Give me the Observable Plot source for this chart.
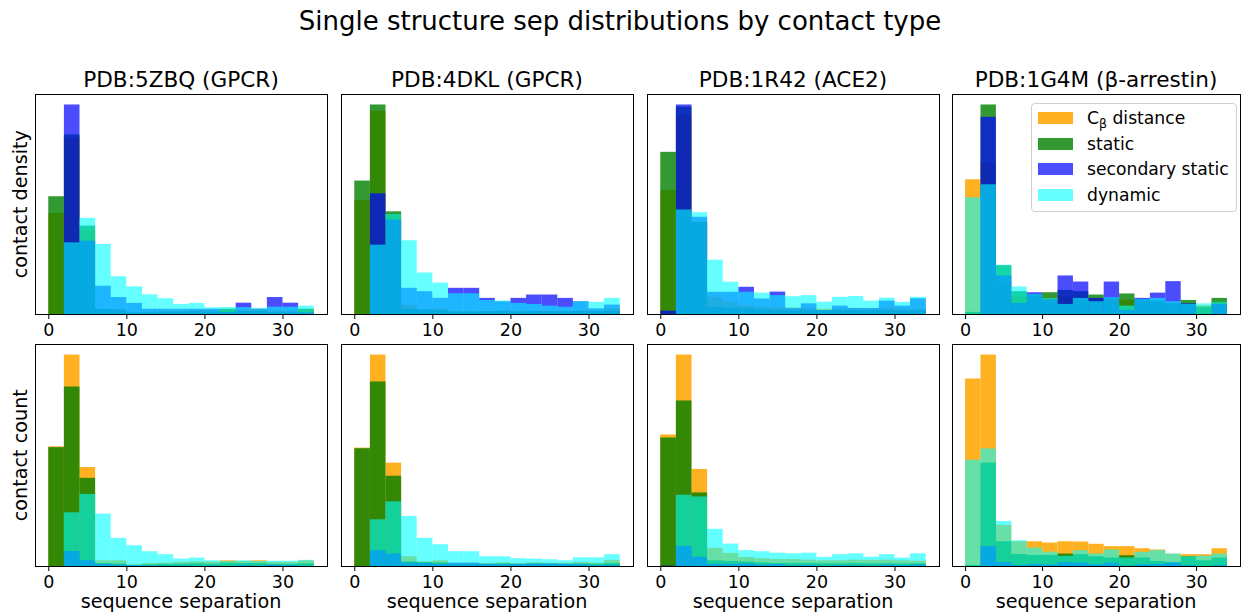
<!DOCTYPE html>
<html><head><meta charset="utf-8">
<script src="https://cdn.jsdelivr.net/npm/d3@7"></script>
<script src="https://cdn.jsdelivr.net/npm/@observablehq/plot@0.6"></script>
<style>
body{margin:0;background:#fff;}
#fig{position:relative;width:1241px;height:613px;overflow:hidden;background:#fff;font-family:"DejaVu Sans",sans-serif;color:#000;}
.abs{position:absolute;white-space:nowrap;line-height:0.75;}
.panel{position:absolute;}
.legend{position:absolute;border:1px solid #d0d0d0;border-radius:4px;background:rgba(255,255,255,0.8);box-sizing:border-box;}
.sw{position:absolute;width:35px;height:12px;}
.lt{position:absolute;font-size:17.2px;line-height:1;white-space:nowrap;}
</style></head><body><div id="fig"></div>
<script>
// ---------- data ----------
const binEdges = [0, 2, 4, 6, 8, 10, 12, 14, 16, 18, 20, 22, 24, 26, 28, 30, 32, 34];
const xTicks = [0, 10, 20, 30];
const seriesNames = ["Cβ distance", "static", "secondary static", "dynamic"];
const seriesColors = ["#FFA500", "#008000", "#0000FF", "#00FFFF"];
const seriesAlpha = [0.87, 0.8, 0.7, 0.6];
const panelTitles = ["PDB:5ZBQ (GPCR)", "PDB:4DKL (GPCR)", "PDB:1R42 (ACE2)", "PDB:1G4M (β-arrestin)"];
const rowLabels = ["contact density", "contact count"];
const xLabel = "sequence separation";
const suptitle = "Single structure sep distributions by contact type";

// each panel: [Cβ distance, static, secondary static, dynamic], one value per bin
const dens5ZBQ = [
  [48.2, 84.0, 40.0, 2.3, 2.3, 0.7, 1.2, 1.4, 1.6, 1.9, 1.8, 2.3, 2.0, 2.3, 1.6, 1.6, 2.3],
  [56.2, 85.7, 42.2, 2.4, 2.0, 0.8, 0.8, 1.0, 1.1, 1.3, 1.1, 2.5, 1.4, 1.4, 1.0, 1.0, 2.5],
  [0, 100, 35.0, 13.5, 8.1, 5.3, 2.5, 2.5, 2.5, 2.5, 2.5, 1.0, 5.4, 2.5, 8.1, 5.4, 0.8],
  [0, 34.2, 45.9, 33.4, 18.0, 13.2, 9.4, 7.5, 4.8, 5.3, 3.2, 3.3, 3.3, 2.9, 3.5, 3.5, 4.0]
];
const dens4DKL = [
  [54.4, 97.0, 47.5, 4.5, 2.1, 2.6, 1.4, 1.4, 1.4, 1.6, 1.4, 1.6, 1.5, 1.5, 1.8, 1.6, 2.8],
  [63.7, 100, 49.0, 2.5, 2.2, 1.9, 1.1, 1.1, 1.3, 1.5, 1.1, 1.4, 1.3, 1.3, 1.4, 1.3, 1.6],
  [0, 57.6, 45.0, 12.5, 10.9, 7.7, 12.5, 12.5, 7.7, 6.1, 7.7, 9.3, 9.3, 7.7, 6.1, 2.7, 4.5],
  [0, 33.1, 47.7, 35.2, 19.8, 15.0, 9.9, 9.9, 6.7, 6.4, 5.3, 4.8, 4.0, 3.5, 6.1, 5.8, 7.7]
];
const dens1R42 = [
  [59.2, 95.2, 43.7, 8.2, 5.9, 4.1, 3.5, 3.1, 3.1, 2.9, 2.6, 2.6, 2.9, 2.8, 2.9, 2.6, 2.4],
  [77.4, 99.0, 44.0, 3.4, 3.0, 2.7, 2.2, 1.8, 1.8, 1.8, 1.7, 1.7, 1.8, 1.7, 1.7, 1.5, 1.7],
  [1.6, 100, 46.4, 10.6, 10.6, 13.0, 7.4, 10.7, 2.9, 5.1, 1.9, 4.0, 2.9, 2.9, 6.4, 4.0, 7.5],
  [0, 49.9, 48.6, 25.9, 15.4, 10.6, 10.2, 9.0, 8.5, 9.0, 5.9, 8.2, 8.6, 6.4, 7.8, 5.8, 8.2]
];
const dens1G4M = [
  [64.3, 72.5, 14.1, 8.5, 8.5, 8.0, 8.5, 8.4, 7.6, 6.8, 6.8, 6.1, 5.7, 4.2, 4.1, 4.1, 6.1],
  [1.0, 100, 23.3, 10.9, 9.5, 10.4, 11.5, 10.9, 9.3, 7.7, 9.8, 7.2, 6.4, 5.3, 6.7, 3.5, 7.7],
  [0, 94.1, 18.4, 5.3, 10.4, 7.0, 18.4, 15.5, 7.7, 15.5, 1.9, 7.7, 10.2, 15.7, 5.1, 0, 4.8],
  [55.7, 61.9, 23.5, 13.1, 9.6, 7.7, 4.8, 7.7, 6.1, 8.0, 4.0, 7.2, 7.7, 6.1, 4.8, 5.1, 5.9]
];
const count5ZBQ = [
  [56.6, 100, 46.8, 2.7, 2.7, 0.8, 1.4, 1.6, 1.9, 2.2, 2.1, 2.7, 2.4, 2.7, 1.9, 1.9, 2.7],
  [56.2, 84.9, 41.7, 1.4, 1.2, 0.5, 0.8, 1.0, 1.1, 1.3, 1.1, 1.6, 1.4, 1.4, 1.0, 1.0, 1.3],
  [0, 7.1, 2.7, 1.0, 0.6, 0.4, 0.2, 0.2, 0.2, 0.2, 0.2, 0.1, 0.4, 0.2, 0.6, 0.4, 0.1],
  [0, 25.4, 34.1, 24.8, 13.3, 9.8, 7.0, 5.6, 3.5, 4.0, 2.7, 2.4, 2.7, 2.4, 2.5, 2.5, 2.9]
];
const count4DKL = [
  [56.0, 100, 48.9, 4.6, 2.2, 2.7, 1.4, 1.4, 1.4, 1.7, 1.4, 1.7, 1.5, 1.5, 1.9, 1.6, 2.9],
  [55.7, 87.3, 42.7, 2.2, 1.9, 1.7, 1.0, 1.0, 1.1, 1.3, 1.0, 1.2, 1.1, 1.1, 1.2, 1.1, 1.4],
  [0, 7.5, 5.9, 1.6, 1.4, 1.0, 1.6, 1.6, 1.0, 0.8, 1.0, 1.2, 1.2, 1.0, 0.8, 0.4, 0.6],
  [0, 22.1, 30.6, 23.7, 13.3, 10.3, 7.0, 7.0, 4.6, 4.6, 3.7, 3.5, 3.2, 2.7, 4.1, 4.1, 5.6]
];
const count1R42 = [
  [62.2, 100, 45.9, 8.6, 6.2, 4.3, 3.7, 3.3, 3.3, 3.0, 2.7, 2.7, 3.0, 2.9, 3.0, 2.7, 2.5],
  [60.8, 78.3, 34.8, 2.7, 2.4, 2.1, 1.7, 1.4, 1.4, 1.4, 1.3, 1.3, 1.4, 1.3, 1.3, 1.2, 1.3],
  [0.2, 9.5, 4.4, 1.0, 1.0, 1.2, 0.7, 1.0, 0.3, 0.5, 0.2, 0.4, 0.3, 0.3, 0.6, 0.4, 0.7],
  [0, 33.7, 32.9, 17.6, 10.6, 7.5, 7.0, 6.3, 6.0, 6.3, 4.3, 5.6, 6.0, 4.4, 5.6, 4.0, 6.0]
];
const count1G4M = [
  [88.7, 100, 19.4, 11.7, 11.7, 11.1, 11.7, 11.6, 10.5, 9.4, 9.4, 8.4, 7.8, 5.8, 5.6, 5.6, 8.4],
  [0.5, 48.9, 11.7, 5.7, 5.2, 5.2, 5.9, 5.6, 4.6, 4.0, 5.1, 4.0, 2.4, 1.9, 4.6, 2.7, 4.0],
  [0, 9.4, 1.9, 0.5, 1.0, 0.7, 1.8, 1.6, 0.8, 1.6, 0.2, 0.8, 1.0, 1.6, 0.5, 0, 0.5],
  [50.3, 55.6, 21.3, 12.2, 8.7, 6.8, 4.8, 7.5, 5.9, 7.8, 4.0, 6.7, 7.5, 5.9, 4.6, 4.9, 5.9]
];
const panelData = [
  [dens5ZBQ, dens4DKL, dens1R42, dens1G4M],
  [count5ZBQ, count4DKL, count1R42, count1G4M]
];

// ---------- layout ----------
const fig = document.getElementById("fig");
const frameLeft = [35, 341, 647, 952];
const frameWidth = [292, 292, 292, 288];
const frameTop = [94, 344];
const frameHeight = [220, 222];
const mL = 2, mR = 2, mT = 2, mB = 30;
const tickSize = 17.5, labelSize = 19.2, titleSize = 21.6, supSize = 26;
const LH = 0.75; // line-height of .abs texts (em)
const baseOff = (LH - 1.164) / 2 + 0.928; // baseline offset from box top (em), DejaVu Sans

function addText(txt, x, y, size) {
  const d = document.createElement("div");
  d.className = "abs";
  d.style.fontSize = size + "px";
  d.textContent = txt;
  fig.appendChild(d);
  const w = d.getBoundingClientRect().width;
  d.style.top = (y - baseOff * size) + "px"; // y is baseline
  d.style.left = (x - w / 2) + "px";
  return d;
}

for (let r = 0; r < 2; r++) {
  for (let c = 0; c < 4; c++) {
    const vals = panelData[r][c];
    const maxV = d3.max(vals.flat());
    const W = frameWidth[c], H = frameHeight[r];
    const marks = vals.map((arr, s) =>
      Plot.rectY(arr.map((v, i) => ({x1: binEdges[i], x2: binEdges[i + 1], y: v})),
        {x1: "x1", x2: "x2", y: "y", fill: seriesColors[s], fillOpacity: seriesAlpha[s]}));
    const chart = Plot.plot({
      width: W + mL + mR,
      height: H + mT + mB,
      marginLeft: mL, marginRight: mR, marginTop: mT, marginBottom: mB,
      x: {domain: [-1.7, 35.7]},
      y: {domain: [0, maxV * 1.05], axis: null},
      style: {fontFamily: "DejaVu Sans", fontSize: tickSize + "px", color: "#000", background: "transparent", overflow: "visible"},
      marks: [
        ...marks,
        Plot.frame({stroke: "#000", strokeWidth: 1}),
        Plot.axisX({ticks: xTicks, tickSize: 5, tickPadding: 4, label: null, tickFormat: d => String(d)})
      ]
    });
    chart.classList.add("panel");
    chart.style.left = (frameLeft[c] - mL) + "px";
    chart.style.top = (frameTop[r] - mT) + "px";
    fig.appendChild(chart);
    if (r === 1) addText(xLabel, frameLeft[c] + W / 2, 608.5, labelSize);
    if (r === 0) addText(panelTitles[c], frameLeft[c] + W / 2, 88, titleSize);
  }
}

addText(suptitle, 620, 31, supSize);

// rotated row labels
rowLabels.forEach((t, r) => {
  const d = document.createElement("div");
  d.className = "abs";
  d.style.fontSize = labelSize + "px";
  d.textContent = t;
  fig.appendChild(d);
  const rect = d.getBoundingClientRect();
  const cx = 21, cy = frameTop[r] + frameHeight[r] / 2;
  d.style.left = (cx - rect.width / 2) + "px";
  d.style.top = (cy - rect.height / 2) + "px";
  d.style.transform = "rotate(-90deg)";
});

// legend
const lg = document.createElement("div");
lg.className = "legend";
lg.style.left = "1031px"; lg.style.top = "103px"; lg.style.width = "206px"; lg.style.height = "109px";
fig.appendChild(lg);
seriesNames.forEach((name, i) => {
  const sw = document.createElement("div");
  sw.className = "sw";
  sw.style.left = "6px";
  sw.style.top = (8 + i * 25.7) + "px";
  sw.style.background = seriesColors[i];
  sw.style.opacity = seriesAlpha[i];
  lg.appendChild(sw);
  const t = document.createElement("div");
  t.className = "lt";
  t.style.left = "55px";
  t.style.top = (6 + i * 25.7) + "px";
  if (i === 0) {
    t.innerHTML = 'C<span style="font-size:12.5px;position:relative;top:4px;">β</span> distance';
  } else {
    t.textContent = name;
  }
  lg.appendChild(t);
});
</script>
</body></html>
